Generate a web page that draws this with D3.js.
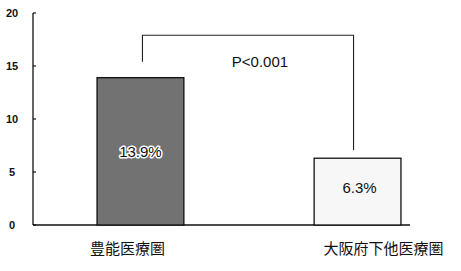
<!DOCTYPE html>
<html><head><meta charset="utf-8">
<script src="https://cdn.jsdelivr.net/npm/d3@7"></script>
<style>body{margin:0;background:#fff}</style>
</head><body>
<svg id="c" width="461" height="271"></svg>
<script>
const categories = ["豊能医療圏", "大阪府下他医療圏"];
const values = [13.9, 6.3];
const valueLabels = ["13.9%", "6.3%"];
const yTicks = [0, 5, 10, 15, 20];
const pLabel = "P<0.001";

const svg = d3.select("#c");
const y = d3.scaleLinear().domain([0, 20]).range([225, 13]);
const x = d3.scaleBand().domain(categories).range([33, 465]).paddingInner(0.6).paddingOuter(0.295);
const bw = x.bandwidth();
const cxOf = i => x(categories[i]) + bw/2;

// axes
svg.append("line").attr("x1",33).attr("x2",33).attr("y1",y(20)).attr("y2",y(0)).attr("stroke","#111").attr("stroke-width",1.3);
svg.append("line").attr("x1",33).attr("x2",410).attr("y1",y(0)).attr("y2",y(0)).attr("stroke","#111").attr("stroke-width",1.3);
svg.selectAll(".tk").data(yTicks).enter().append("line")
  .attr("x1",33).attr("x2",36).attr("y1",d=>y(d)).attr("y2",d=>y(d)).attr("stroke","#111").attr("stroke-width",1.2);
svg.selectAll(".tl").data(yTicks).enter().append("text")
  .attr("x",12).attr("y",d=>y(d)+4).attr("text-anchor","middle")
  .attr("font-family","Liberation Sans, Arial, sans-serif").attr("font-size",11).attr("font-weight","bold").attr("fill","#111")
  .text(d=>d);

const fills = ["#727272", "#f7f7f7"];
svg.selectAll(".bar").data(values).enter().append("rect")
  .attr("x",(d,i)=>x(categories[i])).attr("width",bw)
  .attr("y",d=>y(d)).attr("height",d=>y(0)-y(d))
  .attr("fill",(d,i)=>fills[i]).attr("stroke","#111").attr("stroke-width",1.3);

svg.selectAll(".vl").data(values).enter().append("text")
  .attr("x",(d,i)=>cxOf(i)+(i?2:0))
  .attr("y",(d,i)=>i? y(d)+35 : y(d/2)+6)
  .attr("text-anchor","middle").attr("font-family","Liberation Sans, Arial, sans-serif").attr("font-size",15)
  .attr("fill","#111").attr("stroke",(d,i)=>i?"none":"#fff").attr("stroke-width",3)
  .attr("paint-order","stroke").attr("stroke-linejoin","round")
  .text((d,i)=>valueLabels[i]);

// bracket
const bx0 = cxOf(0)+2, bx1 = cxOf(1)-4;
const bTop = y(17.9);
svg.append("path").attr("d",`M${bx0},${y(values[0])-16}V${bTop}H${bx1}V${y(values[1])-8}`)
  .attr("fill","none").attr("stroke","#222").attr("stroke-width",1.1);
svg.append("text").attr("x",(bx0+bx1)/2+12).attr("y",bTop+32).attr("text-anchor","middle")
  .attr("font-family","Liberation Sans, Arial, sans-serif").attr("font-size",15).attr("fill","#111").text(pLabel);

svg.selectAll(".cl").data(categories).enter().append("text")
  .attr("x",(d,i)=>cxOf(i)+(i?26:-13)).attr("y",254).attr("text-anchor","middle")
  .attr("font-family","Noto Sans CJK JP, sans-serif").attr("font-size",15).attr("fill","#111")
  .text(d=>d);
</script>
</body></html>
